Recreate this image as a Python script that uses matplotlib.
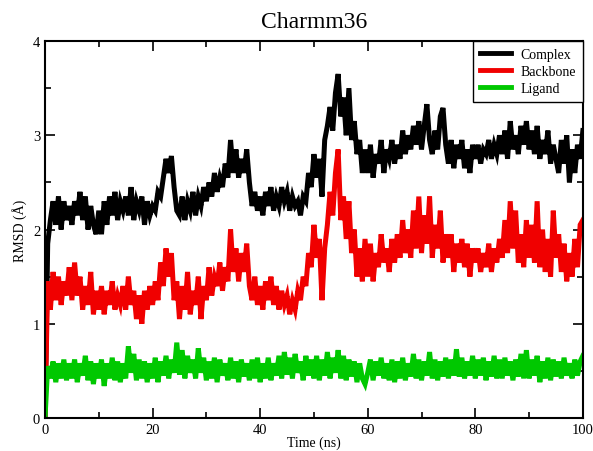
import numpy as np
import matplotlib
matplotlib.use("Agg")
import matplotlib.pyplot as plt

# RMSD traces, one frame every 0.5 ns over 100 ns
time_ns = np.arange(0, 100.5, 0.5)

complex_rmsd = [
    0.00, 1.85, 2.10, 2.30, 2.05, 2.35, 2.00, 2.30, 2.10, 2.25,
    2.05, 2.30, 2.15, 2.40, 2.10, 2.35, 2.00, 2.25, 2.05, 1.95,
    2.20, 1.95, 2.30, 2.05, 2.35, 2.15, 2.40, 2.10, 2.30, 2.20,
    2.35, 2.15, 2.45, 2.10, 2.30, 2.20, 2.35, 2.05, 2.30, 2.15,
    2.25, 2.20, 2.40, 2.35, 2.55, 2.75, 2.60, 2.78, 2.45, 2.20,
    2.15, 2.35, 2.10, 2.30, 2.20, 2.40, 2.15, 2.35, 2.25, 2.45,
    2.30, 2.50, 2.35, 2.60, 2.40, 2.55, 2.45, 2.70, 2.55, 2.95,
    2.60, 2.85, 2.55, 2.75, 2.60, 2.85, 2.50, 2.25, 2.40, 2.20,
    2.35, 2.15, 2.40, 2.25, 2.45, 2.20, 2.35, 2.25, 2.45, 2.30,
    2.40, 2.20, 2.35, 2.25, 2.30, 2.15, 2.35, 2.30, 2.60, 2.45,
    2.80, 2.55, 2.75, 2.35, 2.95, 3.10, 3.30, 3.05, 3.45, 3.65,
    3.20, 3.40, 3.00, 3.50, 2.95, 3.15, 2.80, 2.95, 2.60, 2.85,
    2.60, 2.90, 2.55, 2.80, 2.70, 2.95, 2.60, 2.85, 2.75, 2.95,
    2.70, 2.90, 2.75, 3.05, 2.80, 3.00, 2.85, 3.10, 2.90, 3.15,
    2.85, 3.10, 3.33, 2.95, 2.80, 3.05, 2.85, 3.20, 3.29, 2.90,
    2.70, 2.95, 2.65, 2.90, 2.75, 2.95, 2.65, 2.85, 2.60, 2.90,
    2.75, 2.90, 2.70, 2.85, 2.80, 2.95, 2.75, 2.90, 2.80, 3.00,
    2.80, 3.05, 2.75, 3.15, 2.85, 3.00, 2.80, 3.10, 2.90, 3.15,
    2.85, 3.05, 2.80, 3.10, 2.75, 2.95, 2.80, 3.05, 2.70, 2.90,
    2.75, 2.60, 2.95, 2.70, 3.00, 2.50, 2.85, 2.60, 2.90, 2.75,
    3.05,
]

backbone_rmsd = [
    0.00, 1.45, 1.15, 1.55, 1.25, 1.50, 1.20, 1.45, 1.30, 1.60,
    1.25, 1.65, 1.30, 1.50, 1.15, 1.40, 1.20, 1.55, 1.10, 1.35,
    1.15, 1.40, 1.10, 1.35, 1.20, 1.45, 1.15, 1.30, 1.20, 1.40,
    1.15, 1.50, 1.20, 1.35, 1.05, 1.30, 1.00, 1.35, 1.15, 1.40,
    1.20, 1.45, 1.25, 1.65, 1.40, 1.80, 1.50, 1.75, 1.25, 1.45,
    1.05, 1.40, 1.15, 1.55, 1.10, 1.35, 1.20, 1.50, 1.05, 1.40,
    1.25, 1.60, 1.30, 1.50, 1.40, 1.65, 1.35, 1.60, 1.45, 2.00,
    1.55, 1.80, 1.45, 1.75, 1.55, 1.85, 1.40, 1.25, 1.50, 1.20,
    1.40, 1.15, 1.45, 1.25, 1.50, 1.20, 1.40, 1.15, 1.35, 1.20,
    1.30, 1.10, 1.25, 1.15, 1.35, 1.25, 1.50, 1.40, 1.75, 1.60,
    2.05, 1.70, 1.90, 1.25, 1.80, 2.05, 2.40, 2.15, 2.60, 2.85,
    2.10, 2.35, 1.90, 2.30, 1.75, 2.00, 1.50, 1.80, 1.45, 1.90,
    1.50, 1.85, 1.45, 1.75, 1.60, 1.95, 1.65, 1.80, 1.55, 1.90,
    1.65, 1.95, 1.70, 2.10, 1.75, 2.00, 1.70, 2.20, 1.80, 2.35,
    1.75, 2.15, 1.85, 2.35, 1.70, 2.05, 1.80, 2.20, 1.65, 1.95,
    1.70, 1.95, 1.55, 1.85, 1.65, 1.90, 1.60, 1.85, 1.50, 1.80,
    1.65, 1.80, 1.55, 1.75, 1.60, 1.85, 1.55, 1.80, 1.65, 1.90,
    1.70, 2.10, 1.75, 2.30, 1.80, 2.20, 1.65, 1.95, 1.60, 2.10,
    1.70, 2.05, 1.65, 2.30, 1.60, 2.00, 1.55, 1.90, 1.50, 2.20,
    1.70, 1.95, 1.55, 1.85, 1.45, 1.75, 1.50, 1.90, 1.60, 2.05,
    2.10,
]

ligand_rmsd = [
    0.00, 0.55, 0.42, 0.60, 0.38, 0.58, 0.42, 0.62, 0.40, 0.58,
    0.42, 0.62, 0.38, 0.58, 0.45, 0.66, 0.40, 0.60, 0.36, 0.58,
    0.42, 0.62, 0.34, 0.58, 0.42, 0.64, 0.40, 0.60, 0.38, 0.58,
    0.42, 0.76, 0.48, 0.68, 0.40, 0.62, 0.42, 0.60, 0.38, 0.58,
    0.42, 0.64, 0.38, 0.60, 0.45, 0.66, 0.42, 0.62, 0.48, 0.80,
    0.46, 0.72, 0.42, 0.66, 0.48, 0.62, 0.42, 0.74, 0.48, 0.64,
    0.40, 0.60, 0.42, 0.64, 0.38, 0.62, 0.45, 0.58, 0.40, 0.64,
    0.42, 0.60, 0.38, 0.62, 0.44, 0.58, 0.40, 0.62, 0.42, 0.64,
    0.38, 0.58, 0.42, 0.64, 0.40, 0.58, 0.45, 0.66, 0.42, 0.70,
    0.46, 0.64, 0.42, 0.68, 0.48, 0.60, 0.40, 0.66, 0.45, 0.62,
    0.42, 0.66, 0.40, 0.62, 0.45, 0.70, 0.42, 0.64, 0.48, 0.72,
    0.42, 0.66, 0.40, 0.62, 0.44, 0.60, 0.38, 0.58, 0.42, 0.36,
    0.48, 0.62, 0.40, 0.60, 0.45, 0.64, 0.42, 0.58, 0.40, 0.62,
    0.38, 0.60, 0.42, 0.64, 0.40, 0.58, 0.44, 0.68, 0.42, 0.62,
    0.40, 0.60, 0.45, 0.70, 0.42, 0.62, 0.40, 0.60, 0.44, 0.64,
    0.42, 0.62, 0.45, 0.73, 0.44, 0.64, 0.42, 0.60, 0.45, 0.66,
    0.42, 0.62, 0.45, 0.64, 0.40, 0.60, 0.44, 0.66, 0.42, 0.62,
    0.42, 0.64, 0.45, 0.60, 0.40, 0.62, 0.44, 0.68, 0.42, 0.72,
    0.42, 0.62, 0.45, 0.66, 0.38, 0.60, 0.42, 0.64, 0.40, 0.62,
    0.44, 0.60, 0.42, 0.64, 0.45, 0.58, 0.42, 0.62, 0.45, 0.60,
    0.66,
]

series_names = ["Complex", "Backbone", "Ligand"]
series_colors = ["black", "#f00000", "#00c800"]

plt.rcParams["font.family"] = ["Liberation Serif", "DejaVu Serif"]

fig = plt.figure(figsize=(5.93, 4.52), dpi=100)
ax = fig.add_axes([0.0759, 0.073, 0.907, 0.834])

for vals, name, col in zip([complex_rmsd, backbone_rmsd, ligand_rmsd],
                           series_names, series_colors):
    ax.plot(time_ns, vals, color=col, lw=3.6, label=name,
            solid_joinstyle="miter")

ax.set_xlim(0, 100)
ax.set_ylim(0, 4)
ax.set_xticks(np.arange(0, 101, 20))
ax.set_xticks(np.arange(0, 101, 10), minor=True)
ax.set_yticks(np.arange(0, 5, 1))
ax.set_yticks(np.arange(0, 4.1, 0.5), minor=True)
ax.tick_params(which="both", direction="in", top=True, right=True,
               labelsize=10.5, width=1.2)
ax.tick_params(which="major", length=7)
ax.tick_params(which="minor", length=4)
for sp in ax.spines.values():
    sp.set_linewidth(1.5)

ax.set_title("Charmm36", fontsize=17, pad=10)
ax.set_xlabel("Time (ns)", fontsize=10, labelpad=0)
ax.set_ylabel("RMSD (Å)", fontsize=10, labelpad=4)

leg = ax.legend(loc="upper right", fontsize=10, handlelength=2.2,
                handletextpad=0.7, borderaxespad=0, fancybox=False,
                labelspacing=0.3, borderpad=0.5, framealpha=1)
leg.get_frame().set_edgecolor("black")
leg.get_frame().set_linewidth(1.0)
for h in leg.get_lines():
    h.set_linewidth(3.5)

fig.savefig("out.png", dpi=100)
